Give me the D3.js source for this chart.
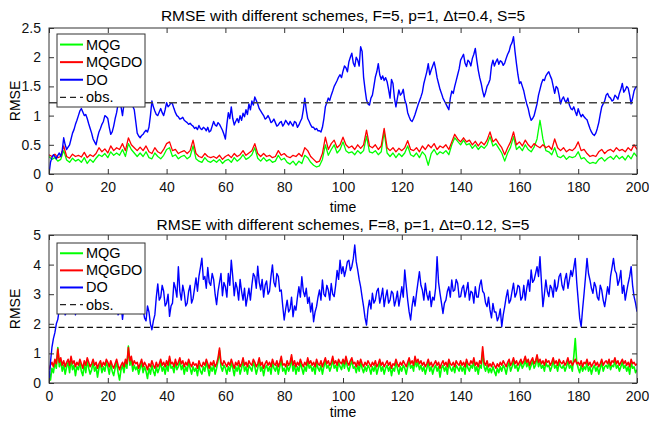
<!DOCTYPE html>
<html>
<head>
<meta charset="utf-8">
<script src="https://cdn.jsdelivr.net/npm/d3@7"></script>
<style>
  html, body { margin: 0; padding: 0; background: #fff; }
  svg { display: block; font-family: "Liberation Sans", Arial, Helvetica, sans-serif; }
</style>
</head>
<body>
<svg id="chart" width="649" height="422"></svg>
<script>
const timeTicks = [0, 20, 40, 60, 80, 100, 120, 140, 160, 180, 200];
const rmseTicks1 = [0, 0.5, 1, 1.5, 2, 2.5];
const rmseTicks2 = [0, 1, 2, 3, 4, 5];
const seriesNames = ["MQG", "MQGDO", "DO", "obs."];
const titles = [
  "RMSE with different schemes, F=5, p=1, \u0394t=0.4, S=5",
  "RMSE with different schemes, F=8, p=1, \u0394t=0.12, S=5"
];
const obsLevel1 = 1.22;
const obsLevel2 = 1.88;

// ---- Panel 1: F=5, dt=0.4 ----
// MQG and MQGDO sampled every 1 time unit
const mqg1 = [
  0.3, 0.25, 0.28, 0.22, 0.25, 0.4, 0.24, 0.2, 0.27, 0.22, 0.25,
  0.2, 0.28, 0.18, 0.25, 0.2, 0.27, 0.33, 0.3, 0.35, 0.28,
  0.38, 0.32, 0.36, 0.32, 0.42, 0.3, 0.52, 0.42, 0.36, 0.3,
  0.36, 0.3, 0.38, 0.28, 0.26, 0.36, 0.3, 0.26, 0.32, 0.42,
  0.45, 0.3, 0.33, 0.26, 0.3, 0.32, 0.26, 0.3, 0.48, 0.26,
  0.22, 0.2, 0.28, 0.22, 0.2, 0.24, 0.2, 0.25, 0.18, 0.23,
  0.25, 0.2, 0.28, 0.22, 0.26, 0.33, 0.25, 0.28, 0.33, 0.45,
  0.27, 0.22, 0.28, 0.22, 0.25, 0.2, 0.22, 0.32, 0.24, 0.27,
  0.2, 0.17, 0.22, 0.15, 0.22, 0.18, 0.32, 0.28, 0.2, 0.15,
  0.12, 0.14, 0.25, 0.5, 0.32, 0.42, 0.5, 0.36, 0.42, 0.55,
  0.4, 0.36, 0.38, 0.33, 0.4, 0.35, 0.4, 0.65, 0.38, 0.36,
  0.4, 0.33, 0.38, 0.72, 0.36, 0.3, 0.36, 0.28, 0.35, 0.3,
  0.36, 0.48, 0.33, 0.3, 0.36, 0.28, 0.38, 0.32, 0.15, 0.35,
  0.42, 0.33, 0.38, 0.35, 0.4, 0.33, 0.5, 0.62, 0.56, 0.5,
  0.58, 0.5, 0.52, 0.44, 0.5, 0.42, 0.48, 0.44, 0.5, 0.64,
  0.48, 0.52, 0.44, 0.36, 0.22, 0.36, 0.46, 0.64, 0.42, 0.47,
  0.4, 0.5, 0.42, 0.38, 0.46, 0.6, 0.92, 0.6, 0.4, 0.38,
  0.33, 0.45, 0.3, 0.28, 0.32, 0.25, 0.3, 0.28, 0.3, 0.38,
  0.26, 0.28, 0.22, 0.18, 0.2, 0.18, 0.25, 0.28, 0.22, 0.27,
  0.3, 0.25, 0.32, 0.26, 0.3, 0.24, 0.32, 0.26, 0.36, 0.3
];

const mqgdo1 = [
  0.33, 0.3, 0.34, 0.28, 0.3, 0.48, 0.3, 0.27, 0.34, 0.3, 0.32,
  0.29, 0.37, 0.28, 0.33, 0.3, 0.35, 0.45, 0.38, 0.43, 0.36,
  0.48, 0.4, 0.45, 0.42, 0.52, 0.4, 0.62, 0.5, 0.45, 0.4,
  0.46, 0.4, 0.48, 0.38, 0.35, 0.45, 0.38, 0.35, 0.42, 0.52,
  0.55, 0.4, 0.42, 0.35, 0.38, 0.4, 0.35, 0.4, 0.58, 0.35,
  0.3, 0.28, 0.35, 0.3, 0.28, 0.3, 0.27, 0.32, 0.25, 0.3,
  0.33, 0.28, 0.35, 0.3, 0.33, 0.4, 0.32, 0.36, 0.4, 0.52,
  0.35, 0.3, 0.35, 0.3, 0.32, 0.28, 0.3, 0.4, 0.32, 0.35,
  0.3, 0.28, 0.32, 0.3, 0.35, 0.3, 0.45, 0.4, 0.3, 0.25,
  0.2, 0.22, 0.35, 0.63, 0.42, 0.52, 0.58, 0.45, 0.5, 0.63,
  0.5, 0.45, 0.48, 0.42, 0.5, 0.44, 0.5, 0.75, 0.48, 0.45,
  0.5, 0.42, 0.48, 0.78, 0.45, 0.4, 0.45, 0.38, 0.44, 0.4,
  0.45, 0.57, 0.42, 0.4, 0.45, 0.38, 0.48, 0.42, 0.5, 0.45,
  0.52, 0.42, 0.48, 0.45, 0.5, 0.42, 0.55, 0.68, 0.6, 0.55,
  0.62, 0.55, 0.58, 0.5, 0.56, 0.48, 0.55, 0.5, 0.58, 0.72,
  0.55, 0.6, 0.52, 0.45, 0.33, 0.45, 0.55, 0.72, 0.5, 0.55,
  0.48, 0.58, 0.5, 0.45, 0.52, 0.48, 0.45, 0.5, 0.45, 0.48,
  0.42, 0.6, 0.45, 0.4, 0.45, 0.38, 0.42, 0.4, 0.45, 0.55,
  0.4, 0.42, 0.35, 0.3, 0.32, 0.3, 0.38, 0.42, 0.35, 0.4,
  0.42, 0.38, 0.45, 0.4, 0.42, 0.38, 0.45, 0.4, 0.5, 0.42
];

// DO sampled every 0.5 time units (10 time units per row)
const do1 = [
  0, 0.2, 0.28, 0.33, 0.3, 0.26, 0.32, 0.36, 0.3, 0.4, 0.62, 0.5, 0.42, 0.46, 0.5, 0.6, 0.7, 0.76, 0.85, 0.92,
  1.0, 1.08, 1.12, 1.06, 1.0, 1.02, 0.95, 0.86, 0.78, 0.7, 0.6, 0.55, 0.5, 0.62, 0.72, 0.78, 0.85, 0.9, 1.0, 0.98,
  0.95, 0.8, 0.68, 0.72, 0.82, 0.95, 1.05, 1.2, 1.3, 1.15, 1.0, 1.2, 1.35, 1.4, 1.3, 1.28, 1.2, 1.16, 1.1, 0.9,
  0.7, 0.65, 0.62, 0.66, 0.68, 0.72, 0.75, 0.72, 0.8, 1.0, 1.25, 1.15, 1.08, 1.02, 1.0, 1.06, 1.12, 1.05, 1.0, 1.1,
  1.22, 1.15, 1.18, 1.22, 1.2, 1.12, 1.05, 1.0, 0.98, 0.94, 0.95, 0.97, 0.92, 0.9, 0.88, 0.85, 0.87, 0.84, 0.82, 0.78,
  0.8, 0.76, 0.83, 0.78, 0.76, 0.8, 0.78, 0.74, 0.8, 0.72, 0.74, 0.82, 0.9, 0.84, 0.82, 0.88, 0.85, 0.8, 0.75, 0.68,
  0.6, 0.85, 1.05, 0.95, 1.15, 0.95, 0.84, 0.9, 0.95, 0.88, 1.0, 0.92, 1.04, 0.98, 1.1, 1.02, 1.2, 1.1, 1.25, 1.18,
  1.32, 1.26, 1.2, 1.12, 1.08, 1.04, 1.0, 0.94, 0.96, 1.0, 0.95, 0.88, 0.9, 0.94, 0.88, 0.82, 0.84, 0.88, 0.9, 0.82,
  0.86, 0.92, 0.88, 0.84, 0.9, 0.86, 0.82, 0.9, 0.88, 0.8, 0.84, 0.9, 0.95, 1.1, 1.3, 1.1, 0.95, 0.9, 0.84, 0.8,
  0.8, 0.76, 0.78, 0.74, 0.74, 0.72, 0.8, 0.95, 1.15, 1.22, 1.3, 1.26, 1.35, 1.42, 1.5, 1.55, 1.6, 1.66, 1.7, 1.65,
  1.76, 1.85, 1.82, 1.75, 1.92, 2.0, 2.07, 1.9, 1.84, 2.0, 1.95, 1.85, 2.18, 2.1, 1.66, 1.45, 1.27, 1.2, 1.18, 1.3,
  1.35, 1.5, 1.66, 1.75, 1.89, 1.7, 1.62, 1.68, 1.6, 1.65, 1.58, 1.45, 1.3, 1.62, 1.55, 1.3, 1.15, 1.3, 1.44, 1.35,
  1.38, 1.45, 1.27, 1.2, 1.05, 0.98, 0.92, 0.9, 0.95, 1.02, 1.1, 1.18, 1.25, 1.32, 1.4, 1.55, 1.65, 1.75, 1.89, 1.7,
  1.78, 1.85, 1.92, 1.8, 1.65, 1.55, 1.45, 1.38, 1.3, 1.25, 1.2, 1.15, 1.1, 1.3, 1.42, 1.38, 1.5, 1.6, 1.7, 1.8,
  1.95, 2.0, 2.05, 1.9, 1.84, 1.95, 1.92, 1.85, 1.98, 2.05, 2.15, 1.95, 1.78, 1.65, 1.55, 1.42, 1.32, 1.4, 1.5, 1.55,
  1.62, 1.85, 1.95, 1.85, 1.92, 1.97, 1.88, 1.94, 1.92, 1.86, 1.9, 1.98, 2.05, 2.1, 2.2, 2.25, 2.35, 2.1, 1.89, 1.7,
  1.55, 1.58, 1.5, 1.42, 1.3, 1.2, 1.12, 1.0, 0.92, 0.95, 1.0, 1.1, 1.2, 1.35, 1.45, 1.55, 1.62, 1.6, 1.68, 1.72,
  1.75, 1.68, 1.62, 1.5, 1.38, 1.5, 1.47, 1.35, 1.2, 1.28, 1.32, 1.25, 1.24, 1.3, 1.18, 1.12, 1.1, 1.15, 1.07, 1.0,
  1.12, 1.04, 0.98, 1.02, 0.98, 0.95, 0.93, 0.85, 0.78, 0.72, 0.68, 0.66, 0.7, 0.78, 0.88, 1.02, 1.15, 1.2, 1.25, 1.35,
  1.38, 1.32, 1.3, 1.25, 1.27, 1.35, 1.32, 1.28, 1.38, 1.45, 1.55, 1.4, 1.44, 1.5, 1.47, 1.35, 1.2, 1.3, 1.42, 1.48,
  1.5
];

// ---- Panel 2: F=8, dt=0.12 (all series sampled every 0.5 time units) ----
const mqg2 = [
  0.4, 0.1, 0.5, 0.35, 0.7, 0.5, 1.2, 0.55, 0.75, 0.4, 0.6, 0.3, 0.55, 0.7, 0.35, 0.8, 0.45, 0.6, 0.25, 0.55,
  0.45, 0.7, 0.4, 0.25, 0.65, 0.35, 0.75, 0.5, 0.3, 0.45, 0.7, 0.4, 0.55, 0.2, 0.5, 0.65, 0.35, 0.55, 0.4, 0.7,
  0.55, 0.3, 0.65, 0.4, 0.25, 0.5, 0.7, 0.35, 0.1, 0.45, 0.6, 0.35, 0.7, 0.5, 1.25, 0.6, 0.8, 0.4, 0.6, 0.45,
  0.55, 0.3, 0.5, 0.7, 0.35, 0.55, 0.4, 0.15, 0.5, 0.3, 0.6, 0.4, 0.25, 0.55, 0.35, 0.5, 0.7, 0.4, 0.55, 0.3,
  0.6, 0.4, 0.8, 0.5, 0.55, 0.35, 0.7, 0.45, 0.55, 0.75, 0.45, 0.6, 0.3, 0.55, 0.4, 0.7, 0.5, 0.3, 0.55, 0.4,
  0.5, 0.25, 0.6, 0.4, 0.3, 0.55, 0.4, 0.7, 0.5, 0.25, 0.55, 0.4, 0.6, 0.3, 0.5, 0.75, 1.1, 0.55, 0.4, 0.6,
  0.5, 0.3, 0.55, 0.4, 0.7, 0.5, 0.25, 0.55, 0.4, 0.6, 0.3, 0.5, 0.75, 0.4, 0.55, 0.3, 0.6, 0.5, 0.4, 0.7,
  0.55, 0.3, 0.5, 0.75, 0.4, 0.55, 0.25, 0.5, 0.6, 0.4, 0.55, 0.3, 0.7, 0.5, 0.4, 0.6, 0.3, 0.55, 0.8, 0.4,
  0.5, 0.3, 0.6, 0.4, 0.55, 0.85, 0.4, 0.6, 0.3, 0.55, 0.4, 0.7, 0.5, 0.3, 0.55, 0.4, 0.75, 0.5, 0.6, 0.4,
  0.55, 0.3, 0.7, 0.5, 0.4, 0.6, 0.3, 0.55, 0.75, 0.5, 0.6, 0.4, 0.55, 0.8, 0.5, 0.6, 0.4, 0.7, 0.55, 0.45,
  0.7, 0.5, 0.8, 0.55, 0.4, 0.6, 0.75, 0.5, 0.55, 0.35, 0.6, 0.4, 0.7, 0.5, 0.35, 0.55, 0.4, 0.6, 0.5, 0.3,
  0.55, 0.4, 0.6, 0.3, 0.5, 0.7, 0.4, 0.55, 0.3, 0.5, 0.6, 0.4, 0.55, 0.25, 0.5, 0.4, 0.7, 0.5, 0.3, 0.55,
  0.4, 0.6, 0.5, 0.3, 0.55, 0.75, 0.5, 0.6, 0.4, 0.8, 0.55, 0.7, 0.45, 0.6, 0.4, 0.55, 0.3, 0.5, 0.7, 0.4,
  0.55, 0.3, 0.5, 0.6, 0.4, 0.55, 0.2, 0.5, 0.6, 0.4, 0.55, 0.3, 0.7, 0.5, 0.4, 0.55, 0.35, 0.6, 0.5, 0.4,
  0.6, 0.4, 0.55, 0.3, 0.7, 0.5, 0.4, 0.6, 0.5, 0.75, 0.4, 0.55, 0.3, 0.6, 0.5, 1.05, 0.55, 0.4, 0.6, 0.35,
  0.5, 0.35, 0.55, 0.4, 0.25, 0.5, 0.35, 0.55, 0.4, 0.6, 0.5, 0.3, 0.55, 0.7, 0.4, 0.55, 0.75, 0.5, 0.6, 0.4,
  0.55, 0.7, 0.5, 0.6, 0.8, 0.55, 0.7, 0.45, 0.6, 0.75, 0.5, 0.6, 0.9, 0.55, 0.7, 0.5, 0.6, 0.4, 0.7, 0.55,
  0.6, 0.4, 0.55, 0.75, 0.5, 0.6, 0.4, 0.7, 0.55, 0.5, 0.6, 0.4, 0.55, 0.75, 0.5, 0.6, 0.4, 0.9, 1.5, 0.7,
  0.5, 0.35, 0.6, 0.4, 0.55, 0.45, 0.7, 0.4, 0.55, 0.3, 0.5, 0.6, 0.4, 0.55, 0.3, 0.5, 0.7, 0.4, 0.55, 0.6,
  0.5, 0.7, 0.45, 0.6, 0.55, 0.75, 0.5, 0.6, 0.4, 0.55, 0.7, 0.5, 0.6, 0.4, 0.55, 0.3, 0.7, 0.5, 0.55, 0.35,
  0.45
];

const mqgdo2 = [
  0.45, 0.6, 0.7, 0.55, 0.8, 0.65, 1.15, 0.7, 0.85, 0.6, 0.75, 0.55, 0.7, 0.8, 0.6, 0.9, 0.65, 0.75, 0.55, 0.7,
  0.6, 0.8, 0.65, 0.5, 0.75, 0.6, 0.85, 0.7, 0.55, 0.65, 0.8, 0.6, 0.7, 0.5, 0.65, 0.75, 0.55, 0.7, 0.6, 0.8,
  0.7, 0.55, 0.75, 0.6, 0.5, 0.65, 0.8, 0.6, 0.45, 0.6, 0.7, 0.55, 0.8, 0.65, 1.2, 0.75, 0.9, 0.6, 0.75, 0.65,
  0.7, 0.5, 0.65, 0.8, 0.55, 0.7, 0.6, 0.45, 0.65, 0.55, 0.75, 0.6, 0.5, 0.7, 0.55, 0.65, 0.8, 0.6, 0.7, 0.55,
  0.75, 0.6, 0.9, 0.65, 0.7, 0.55, 0.8, 0.6, 0.7, 0.85, 0.65, 0.75, 0.55, 0.7, 0.6, 0.8, 0.65, 0.55, 0.7, 0.6,
  0.65, 0.5, 0.75, 0.6, 0.55, 0.7, 0.6, 0.8, 0.65, 0.5, 0.7, 0.6, 0.75, 0.55, 0.65, 0.85, 1.18, 0.7, 0.6, 0.75,
  0.65, 0.55, 0.7, 0.6, 0.8, 0.65, 0.5, 0.7, 0.6, 0.75, 0.55, 0.65, 0.85, 0.6, 0.7, 0.55, 0.75, 0.65, 0.6, 0.8,
  0.7, 0.55, 0.65, 0.85, 0.6, 0.7, 0.5, 0.65, 0.75, 0.6, 0.7, 0.55, 0.8, 0.65, 0.6, 0.75, 0.55, 0.7, 0.9, 0.6,
  0.65, 0.55, 0.75, 0.6, 0.7, 0.95, 0.6, 0.75, 0.55, 0.7, 0.6, 0.8, 0.65, 0.55, 0.7, 0.6, 0.85, 0.65, 0.75, 0.6,
  0.7, 0.55, 0.8, 0.65, 0.6, 0.75, 0.55, 0.7, 0.85, 0.65, 0.75, 0.6, 0.7, 0.9, 0.65, 0.75, 0.6, 0.8, 0.7, 0.65,
  0.8, 0.65, 0.9, 0.7, 0.6, 0.75, 0.85, 0.65, 0.7, 0.55, 0.75, 0.6, 0.8, 0.65, 0.55, 0.7, 0.6, 0.75, 0.65, 0.55,
  0.7, 0.6, 0.75, 0.55, 0.65, 0.8, 0.6, 0.7, 0.55, 0.65, 0.75, 0.6, 0.7, 0.5, 0.65, 0.6, 0.8, 0.65, 0.55, 0.7,
  0.6, 0.75, 0.65, 0.55, 0.7, 0.85, 0.65, 0.75, 0.6, 0.9, 0.7, 0.8, 0.65, 0.75, 0.6, 0.7, 0.55, 0.65, 0.8, 0.6,
  0.7, 0.55, 0.65, 0.75, 0.6, 0.7, 0.5, 0.65, 0.75, 0.6, 0.7, 0.55, 0.8, 0.65, 0.6, 0.7, 0.55, 0.75, 0.65, 0.6,
  0.75, 0.6, 0.7, 0.55, 0.8, 0.65, 0.6, 0.75, 0.65, 0.85, 0.6, 0.7, 0.55, 0.75, 0.65, 1.22, 0.7, 0.6, 0.75, 0.55,
  0.65, 0.55, 0.7, 0.6, 0.5, 0.65, 0.55, 0.7, 0.6, 0.75, 0.65, 0.55, 0.7, 0.8, 0.6, 0.7, 0.85, 0.65, 0.75, 0.6,
  0.7, 0.8, 0.65, 0.75, 0.9, 0.7, 0.8, 0.6, 0.75, 0.85, 0.65, 0.75, 0.95, 0.7, 0.8, 0.65, 0.75, 0.6, 0.8, 0.7,
  0.75, 0.6, 0.7, 0.85, 0.65, 0.75, 0.6, 0.8, 0.7, 0.65, 0.75, 0.6, 0.7, 0.85, 0.65, 0.75, 0.6, 0.7, 0.8, 0.65,
  0.7, 0.6, 0.75, 0.55, 0.7, 0.65, 0.8, 0.6, 0.7, 0.55, 0.65, 0.75, 0.6, 0.7, 0.55, 0.65, 0.8, 0.6, 0.7, 0.75,
  0.65, 0.8, 0.6, 0.75, 0.7, 0.85, 0.65, 0.75, 0.6, 0.7, 0.8, 0.65, 0.75, 0.6, 0.7, 0.55, 0.8, 0.65, 0.7, 0.6,
  0.65
];

const do2 = [
  0, 0.7, 1.2, 1.5, 1.7, 2.0, 2.15, 2.5, 2.4, 2.8, 2.6, 2.3, 2.4, 2.9, 2.7, 2.4, 2.5, 2.8, 2.3, 2.7,
  2.6, 3.0, 2.8, 2.4, 2.5, 2.9, 2.7, 3.1, 3.0, 2.5, 2.6, 3.0, 2.8, 2.4, 2.5, 2.9, 2.7, 3.2, 2.9, 2.5,
  2.6, 3.0, 2.8, 2.6, 2.5, 2.9, 2.7, 2.3, 2.4, 2.7, 2.15, 2.6, 2.5, 3.0, 2.8, 2.4, 2.6, 3.1, 2.9, 2.4,
  2.5, 2.8, 2.35, 2.7, 2.5, 2.2, 2.1, 2.6, 2.4, 2.0, 1.8, 2.1, 2.3, 2.9, 3.35, 2.8, 2.9, 3.3, 3.1, 2.6,
  2.7, 3.0, 2.25, 2.6, 2.7, 3.4, 3.2, 2.9, 3.93, 3.1, 2.8, 3.3, 3.05, 2.6, 2.7, 3.1, 3.3, 2.7, 2.85, 3.2,
  3.55, 3.1, 3.6, 3.9, 4.22, 3.5, 3.6, 3.2, 3.9, 3.4, 3.3, 3.7, 3.5, 3.0, 2.65, 3.1, 3.4, 3.7, 2.95, 3.4,
  3.25, 2.9, 3.7, 3.3, 4.15, 3.6, 2.95, 3.4, 3.2, 2.8, 3.5, 3.1, 2.8, 3.2, 2.6, 2.9, 3.2, 2.8, 3.3, 3.7,
  3.6, 3.2, 3.95, 3.4, 3.15, 3.5, 2.9, 3.3, 3.45, 3.0, 3.1, 3.6, 3.99, 3.4, 3.25, 3.7, 3.6, 3.1, 3.14, 2.6,
  2.13, 2.5, 2.8, 2.4, 2.5, 2.9, 2.24, 2.6, 2.46, 2.9, 3.25, 2.9, 3.59, 3.1, 2.92, 3.2, 2.69, 2.9, 2.4, 2.7,
  2.07, 2.4, 2.58, 2.9, 3.14, 2.8, 3.48, 3.0, 2.92, 3.3, 3.14, 2.8, 3.36, 3.0, 2.92, 3.3, 3.8, 3.5, 4.15, 3.7,
  3.93, 3.6, 3.82, 4.1, 4.15, 3.8, 3.93, 4.2, 4.66, 4.1, 3.82, 3.5, 3.25, 2.9, 2.58, 2.2, 1.96, 2.5, 2.8, 2.5,
  3.03, 2.7, 2.8, 3.1, 3.2, 2.7, 2.92, 3.2, 2.58, 2.9, 3.14, 2.7, 2.8, 3.1, 3.03, 2.6, 2.8, 3.1, 2.6, 2.9,
  3.25, 2.9, 3.82, 3.3, 2.8, 2.4, 2.13, 2.6, 2.92, 2.6, 3.03, 3.4, 3.76, 3.3, 3.14, 2.8, 3.37, 3.0, 2.8, 3.1,
  2.58, 2.9, 2.8, 3.2, 4.27, 3.4, 3.03, 2.7, 2.35, 2.7, 2.8, 3.1, 3.25, 2.9, 3.48, 3.1, 3.14, 3.5, 3.37, 2.9,
  2.92, 3.2, 3.3, 2.9, 3.14, 3.4, 2.8, 3.1, 3.05, 2.7, 3.25, 2.9, 2.9, 3.3, 3.48, 3.1, 3.03, 2.7, 2.58, 2.9,
  2.47, 2.2, 2.69, 2.4, 2.4, 2.1, 2.24, 2.5, 1.9, 2.3, 2.58, 2.9, 3.14, 2.7, 2.8, 3.1, 3.37, 2.9, 3.03, 3.3,
  3.25, 2.8, 2.9, 3.3, 2.8, 3.2, 3.48, 3.1, 3.82, 3.4, 3.48, 3.7, 3.93, 3.6, 4.27, 3.4, 2.58, 3.0, 3.48, 3.1,
  2.92, 3.3, 3.2, 2.9, 3.48, 3.1, 3.25, 3.6, 3.7, 3.3, 3.14, 3.5, 3.7, 3.2, 3.48, 3.8, 3.6, 3.9, 4.21, 3.4,
  2.8, 2.2, 1.9, 2.5, 3.03, 3.6, 4.21, 3.7, 3.48, 3.2, 3.03, 3.4, 3.25, 2.9, 2.8, 3.3, 3.14, 2.8, 2.58, 2.9,
  3.25, 3.0, 3.6, 3.9, 4.21, 3.8, 3.7, 3.3, 3.48, 3.8, 3.03, 3.3, 2.8, 3.1, 3.37, 3.6, 3.93, 3.3, 2.92, 2.7,
  2.41
];

const colors = { MQG: "#00ff00", MQGDO: "#ff0000", DO: "#0000ff" };

const W = 649, H = 422;
const margin = { left: 49, right: 637 };
const panels = [
  { top: 28, bottom: 174, yMax: 2.5, yTicks: rmseTicks1, step: [1, 1, 0.5],
    series: [mqg1, mqgdo1, do1], obs: obsLevel1, title: titles[0], widths: [1.3, 1.3, 1.4],
    titleY: 15, xlabelY: 207, legend: { x: 57, y: 34, w: 88, h: 73 } },
  { top: 235, bottom: 383, yMax: 5, yTicks: rmseTicks2, step: [0.5, 0.5, 0.5],
    series: [mqg2, mqgdo2, do2], obs: obsLevel2, title: titles[1], widths: [1.6, 1.6, 1.4],
    titleY: 224, xlabelY: 412, legend: { x: 57, y: 243, w: 88, h: 71 } }
];

const svg = d3.select("#chart");
svg.append("rect").attr("width", W).attr("height", H).attr("fill", "#fff");

panels.forEach((p, pi) => {
  const x = d3.scaleLinear().domain([0, 200]).range([margin.left, margin.right]);
  const y = d3.scaleLinear().domain([0, p.yMax]).range([p.bottom, p.top]);
  const g = svg.append("g");

  const clipId = "clip" + pi;
  svg.append("clipPath").attr("id", clipId).append("rect")
    .attr("x", margin.left).attr("y", p.top)
    .attr("width", margin.right - margin.left).attr("height", p.bottom - p.top);

  const plot = g.append("g").attr("clip-path", `url(#${clipId})`);
  const keys = ["MQG", "MQGDO", "DO"];
  p.series.forEach((vals, si) => {
    const step = p.step[si];
    const line = d3.line()
      .x((d, i) => x(i * step))
      .y(d => y(d));
    plot.append("path")
      .datum(vals)
      .attr("fill", "none")
      .attr("stroke", colors[keys[si]])
      .attr("stroke-width", p.widths[si])
      .attr("stroke-linejoin", "round")
      .attr("d", line);
  });

  // observation error level
  plot.append("line")
    .attr("x1", x(0)).attr("x2", x(200))
    .attr("y1", y(p.obs)).attr("y2", y(p.obs))
    .attr("stroke", pi === 0 ? "#444" : "#111")
    .attr("stroke-width", pi === 0 ? 1.4 : 1.1)
    .attr("stroke-dasharray", pi === 0 ? "8,4" : "6,3.5");

  // axes: ticks inward on all four sides
  const tickLen = 5;
  const axisColor = "#333";
  const xB = d3.axisBottom(x).tickValues(timeTicks).tickSizeInner(-tickLen).tickSizeOuter(0).tickPadding(8);
  const xT = d3.axisTop(x).tickValues(timeTicks).tickSizeInner(-tickLen).tickSizeOuter(0).tickFormat("");
  const yL = d3.axisLeft(y).tickValues(p.yTicks).tickSizeInner(-tickLen).tickSizeOuter(0).tickPadding(8)
    .tickFormat(d => String(d));
  const yR = d3.axisRight(y).tickValues(p.yTicks).tickSizeInner(-tickLen).tickSizeOuter(0).tickFormat("");

  const ax = [
    g.append("g").attr("transform", `translate(0,${p.bottom})`).call(xB),
    g.append("g").attr("transform", `translate(0,${p.top})`).call(xT),
    g.append("g").attr("transform", `translate(${margin.left},0)`).call(yL),
    g.append("g").attr("transform", `translate(${margin.right},0)`).call(yR)
  ];
  ax.forEach(a => {
    a.select(".domain").remove();
    a.selectAll("line").attr("stroke", axisColor);
    a.selectAll("text").attr("fill", "#111").style("font-size", "14px")
      .style("font-family", "'Liberation Sans', Arial, sans-serif");
  });

  g.append("rect")
    .attr("x", margin.left).attr("y", p.top)
    .attr("width", margin.right - margin.left).attr("height", p.bottom - p.top)
    .attr("fill", "none").attr("stroke", axisColor).attr("stroke-width", 1);

  // title and labels
  g.append("text")
    .attr("x", (margin.left + margin.right) / 2).attr("y", p.titleY)
    .attr("text-anchor", "middle").attr("dominant-baseline", "central")
    .style("font-size", "15.5px").attr("fill", "#000")
    .text(p.title);
  g.append("text")
    .attr("x", (margin.left + margin.right) / 2).attr("y", p.xlabelY)
    .attr("text-anchor", "middle").attr("dominant-baseline", "central")
    .style("font-size", "14px").attr("fill", "#000")
    .text("time");
  g.append("text")
    .attr("transform", `translate(15,${(p.top + p.bottom) / 2}) rotate(-90)`)
    .attr("text-anchor", "middle").attr("dominant-baseline", "central")
    .style("font-size", "14px").attr("fill", "#000")
    .text("RMSE");

  // legend
  const L = p.legend;
  const lg = g.append("g");
  lg.append("rect").attr("x", L.x).attr("y", L.y).attr("width", L.w).attr("height", L.h)
    .attr("fill", "#fff").attr("stroke", "#333").attr("stroke-width", 1);
  const rowH = L.h / 4.15;
  seriesNames.forEach((name, i) => {
    const cy = L.y + rowH * (i + 0.6);
    const isObs = name === "obs.";
    lg.append("line")
      .attr("x1", L.x + 3).attr("x2", L.x + 26)
      .attr("y1", cy).attr("y2", cy)
      .attr("stroke", isObs ? "#222" : colors[name])
      .attr("stroke-width", isObs ? 1.3 : 2)
      .attr("stroke-dasharray", isObs ? "6,4" : null);
    lg.append("text")
      .attr("x", L.x + 29).attr("y", cy)
      .attr("dominant-baseline", "central")
      .style("font-size", "14.5px").attr("fill", "#000")
      .text(name);
  });
});
</script>
</body>
</html>
